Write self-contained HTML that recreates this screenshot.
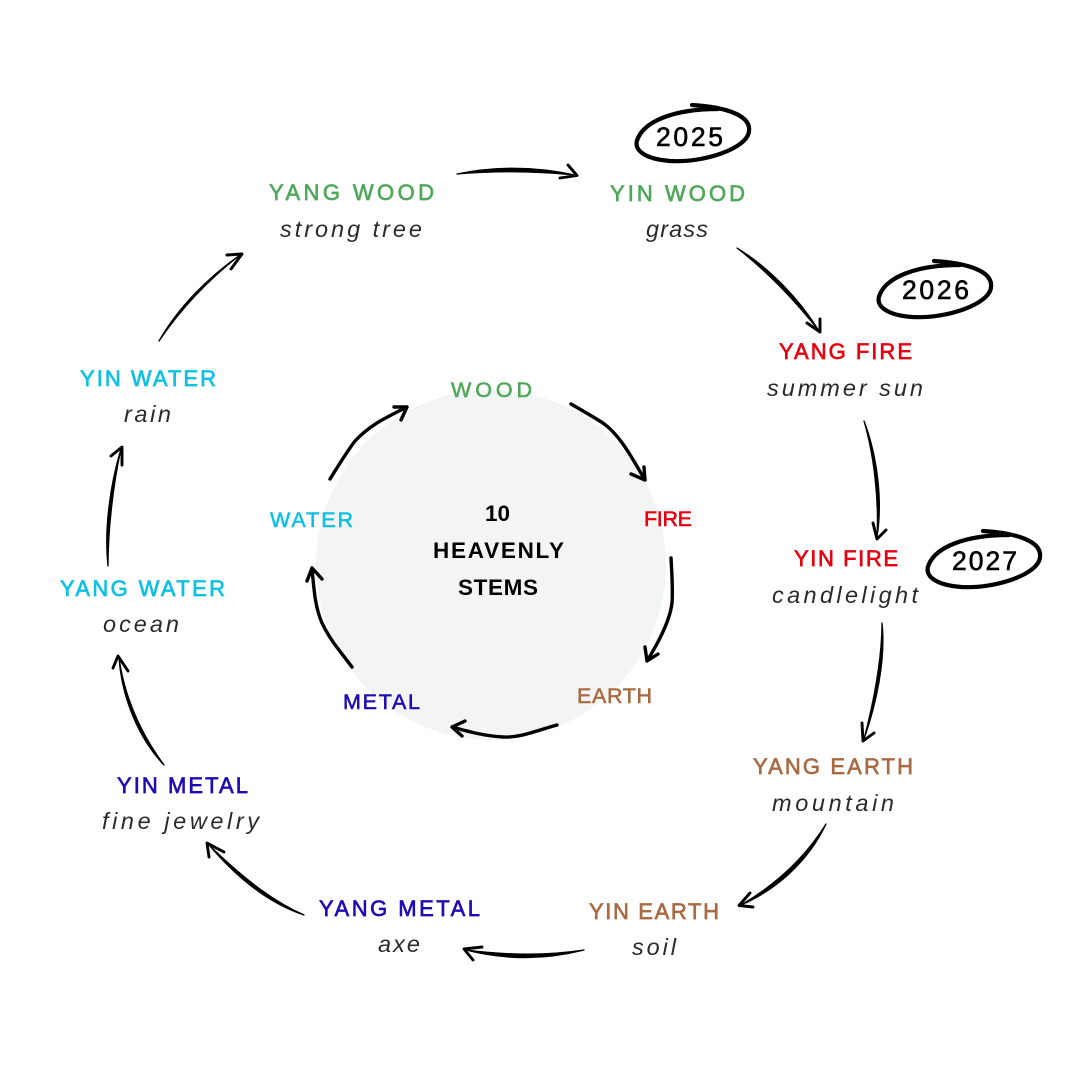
<!DOCTYPE html>
<html><head><meta charset="utf-8"><style>
html,body{margin:0;padding:0;background:#fff}
svg{display:block}
text{font-family:"Liberation Sans",sans-serif}
.l{font-size:22px;stroke-width:.65px}
.n{font-size:21.500px;stroke-width:.55px}
.s{font-size:23.500px;font-style:italic;fill:#2a2a2a}
.c{font-size:22.500px;font-weight:bold;fill:#000}
.y{font-size:26.500px;fill:#000;stroke:#000;stroke-width:.6px}
.g{fill:#4fa85a;stroke:#4fa85a}.r{fill:#e8000f;stroke:#e8000f}.b{fill:#a96a43;stroke:#a96a43}.m{fill:#1e0bb3;stroke:#1e0bb3}.w{fill:#0cc0e4;stroke:#0cc0e4}
.a{fill:#000;stroke:#000;stroke-width:1.300;stroke-linejoin:round}
.h{fill:none;stroke:#000;stroke-width:2.900;stroke-linecap:round;stroke-linejoin:round}
.i{fill:none;stroke:#000;stroke-width:3.400;stroke-linecap:round;stroke-linejoin:round}
.o{fill:none;stroke:#000;stroke-width:4.200;stroke-linecap:round;stroke-linejoin:round}
</style></head><body>
<svg width="1080" height="1080" viewBox="0 0 1080 1080" xmlns="http://www.w3.org/2000/svg">
<rect width="1080" height="1080" fill="#fff"/>
<circle cx="491" cy="565" r="175" fill="#f3f5f4"/>

<!-- outer arrows: tapered bodies -->
<path class="a" d="M457 174Q515 162 575 175Q515 169 457 174Z"/>
<path class="h" d="M568 165L577 175.500L560 178"/>
<path class="a" d="M737 248C770 268 800 300 819 331C797 303 768 272 737 248Z"/>
<path class="h" d="M820 319L820 332L807 323"/>
<path class="a" d="M864 421C877 455 883 500 877 537C879 500 874 455 864 421Z"/>
<path class="h" d="M873 523L877 539L886 530"/>
<path class="a" d="M882 623C886 660 876 705 864 739C873 705 882 660 882 623Z"/>
<path class="h" d="M862 723L863 741L874 733"/>
<path class="a" d="M826 824C805 858 775 885 741 905C778 889 809 860 826 824Z"/>
<path class="h" d="M750 893L739 905.500L753 907"/>
<path class="a" d="M584 950C545 960 505 960 466 950C505 955 545 956 584 950Z"/>
<path class="h" d="M482 947L464 949L473 960"/>
<path class="a" d="M304 915C270 900 240 875 209 845C237 878 268 903 304 915Z"/>
<path class="h" d="M224 852L207 843L209 857"/>
<path class="a" d="M164 765C142 735 125 700 119 658C122 700 140 740 164 765Z"/>
<path class="h" d="M113 668L118 656L128 671"/>
<path class="a" d="M108 566C104 530 110 485 121 449C113 485 108 530 108 566Z"/>
<path class="h" d="M111 456L122 447L122 465"/>
<path class="a" d="M159 341C180 310 208 280 240 255C207 278 178 308 159 341Z"/>
<path class="h" d="M227 255L242 254L231 269"/>

<!-- inner arrows -->
<path class="i" d="M571 404C585 412 595 418 603 423C620 435 632 458 645 480M644 467L645 480L631 474"/>
<path class="i" d="M671 558C672 575 673 590 672 603C670 620 660 640 647 661M645 647L647 661L658 654"/>
<path class="i" d="M557 725C535 731 520 738 503 737C485 736 470 732 452 727M465 721L452 727L462 736"/>
<path class="i" d="M352 667C340 651 330 640 322 623C315 607 314 590 312 568M307 581L312 568L322 579"/>
<path class="i" d="M330 479C340 463 348 450 355 441C370 425 385 418 407 407M394 407L407 407L401 420"/>

<!-- year ovals -->
<path class="o" d="M692 105C725 107 751 115 749 131C748 148 705 163 670 161C645 159 632 150 638 138C645 122 672 109 718 109"/>
<path class="o" transform="translate(242,156)" d="M692 105C725 107 751 115 749 131C748 148 705 163 670 161C645 159 632 150 638 138C645 122 672 109 718 109"/>
<path class="o" transform="translate(291,426)" d="M692 105C725 107 751 115 749 131C748 148 705 163 670 161C645 159 632 150 638 138C645 122 672 109 718 109"/>
<text class="y" x="656" y="146" textLength="67">2025</text>
<text class="y" x="902" y="299" textLength="67">2026</text>
<text class="y" x="952" y="570" textLength="65">2027</text>

<!-- labels -->
<text class="l g" x="269" y="200" textLength="165">YANG WOOD</text>
<text class="s" x="280" y="237" textLength="142">strong tree</text>
<text class="l g" x="610" y="201" textLength="135">YIN WOOD</text>
<text class="s" x="646" y="237" textLength="62">grass</text>
<text class="l r" x="779" y="359" textLength="133">YANG FIRE</text>
<text class="s" x="767" y="396" textLength="156">summer sun</text>
<text class="l r" x="794" y="566" textLength="104">YIN FIRE</text>
<text class="s" x="772" y="603" textLength="146">candlelight</text>
<text class="l b" x="753" y="774" textLength="160">YANG EARTH</text>
<text class="s" x="772" y="811" textLength="122">mountain</text>
<text class="l b" x="589" y="919" textLength="130">YIN EARTH</text>
<text class="s" x="632" y="955" textLength="44">soil</text>
<text class="l m" x="319" y="916" textLength="161">YANG METAL</text>
<text class="s" x="378" y="952" textLength="42">axe</text>
<text class="l m" x="117" y="793" textLength="131">YIN METAL</text>
<text class="s" x="102" y="829" textLength="157">fine jewelry</text>
<text class="l w" x="60" y="596" textLength="165">YANG WATER</text>
<text class="s" x="103" y="632" textLength="76">ocean</text>
<text class="l w" x="80" y="386" textLength="136">YIN WATER</text>
<text class="s" x="124" y="422" textLength="47">rain</text>

<!-- inner -->
<text class="n g" x="451" y="397" textLength="81">WOOD</text>
<text class="n r" x="644" y="526" textLength="48">FIRE</text>
<text class="n b" x="577" y="703" textLength="75">EARTH</text>
<text class="n m" x="343" y="709" textLength="77">METAL</text>
<text class="n w" x="270" y="527" textLength="83">WATER</text>
<text class="c" x="485" y="521" textLength="25">10</text>
<text class="c" x="433" y="558" textLength="131">HEAVENLY</text>
<text class="c" x="458" y="595" textLength="80">STEMS</text>
</svg>
</body></html>
